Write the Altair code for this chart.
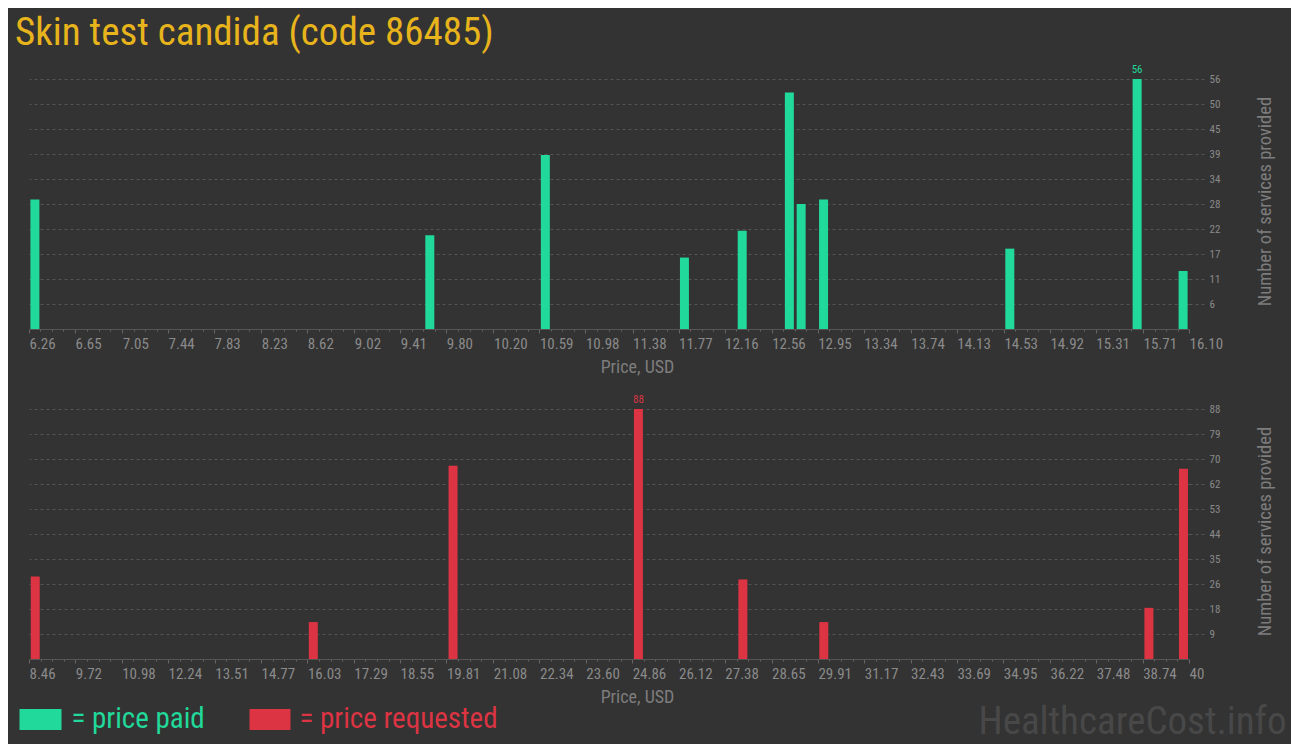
import altair as alt
import pandas as pd

TITLE = "Skin test candida (code 86485)"
FONT = "Roboto Condensed, Liberation Sans Narrow, Arial Narrow, DejaVu Sans Condensed, sans-serif"

# price paid panel
paid_price = [6.31, 9.66, 10.64, 11.82, 12.31, 12.71, 12.81, 13.00, 14.58, 15.66, 16.05]
paid_count = [29, 21, 39, 16, 22, 53, 28, 29, 18, 56, 13]
paid_xticks = ["6.26", "6.65", "7.05", "7.44", "7.83", "8.23", "8.62", "9.02", "9.41",
               "9.80", "10.20", "10.59", "10.98", "11.38", "11.77", "12.16", "12.56",
               "12.95", "13.34", "13.74", "14.13", "14.53", "14.92", "15.31", "15.71", "16.10"]
paid_yticks = [5.6, 11.2, 16.8, 22.4, 28, 33.6, 39.2, 44.8, 50.4, 56]

# price requested panel
req_price = [8.63, 16.19, 19.99, 25.03, 27.87, 30.07, 38.91, 39.85]
req_count = [29, 13, 68, 88, 28, 13, 18, 67]
req_xticks = ["8.46", "9.72", "10.98", "12.24", "13.51", "14.77", "16.03", "17.29", "18.55",
              "19.81", "21.08", "22.34", "23.60", "24.86", "26.12", "27.38", "28.65",
              "29.91", "31.17", "32.43", "33.69", "34.95", "36.22", "37.48", "38.74", "40"]
req_yticks = [8.8, 17.6, 26.4, 35.2, 44, 52.8, 61.6, 70.4, 79.2, 88]

legend_labels = ["= price paid", "= price requested"]
WATERMARK = "HealthcareCost.info"

GREEN = "#20d99a"
RED = "#dc3443"
GOLD = "#e8b41c"
BG = "#333333"
GRID = "#555555"
LABEL = "#8a8a8a"
TITLEC = "#7d7d7d"

W, H = 1160, 250


def panel(prices, counts, xticks, yticks, color):
    df = pd.DataFrame({"price": prices, "count": counts})
    major = [float(t) for t in xticks]
    allticks = []
    for a, b in zip(major[:-1], major[1:]):
        allticks += [a + (b - a) * j / 4 for j in range(4)]
    allticks.append(major[-1])
    major_list = "[" + ",".join(repr(v) for v in major) + "]"
    is_major = "indexof(%s, datum.value) >= 0" % major_list
    label_expr = "%s ? (datum.value == 40 ? '40' : format(datum.value, '.2f')) : ''" % is_major

    xax = alt.Axis(
        values=allticks, tickCount=400, labelExpr=label_expr, grid=False,
        domainColor="#555555", domainWidth=1,
        tickColor="#666666",
        tickSize={"condition": {"test": is_major, "value": 4}, "value": 2},
        labelAlign="left", labelPadding=3, labelBaseline="top",
        labelFont=FONT, labelFontSize=15, labelColor=LABEL, labelOverlap=False,
        labelFlush=False,
        title="Price, USD", titleFont=FONT, titleFontSize=18, titleColor=TITLEC,
        titleFontWeight="normal", titleX=608, titleY=38, titleBaseline="middle",
        titleAlign="center",
    )
    yax = alt.Axis(
        orient="right", values=yticks, tickCount=100, format=".0f", grid=True,
        gridDash=[3, 3], gridColor=GRID, domain=False, tickSize=16, tickDash=[3, 3],
        tickColor=GRID,
        labelPadding=4, labelFont=FONT, labelFontSize=11, labelColor=LABEL,
        labelAlign="left", labelBaseline="middle", labelOverlap=False,
        title="Number of services provided", titleFont=FONT, titleFontSize=18.5,
        titleColor=TITLEC, titleFontWeight="normal", titleAngle=270, titleX=75,
        titleY=122, titleBaseline="middle", titleAlign="center",
    )
    xs = alt.Scale(domain=[major[0], major[-1]], nice=False, zero=False, padding=0)
    ys = alt.Scale(domain=[0, yticks[-1]], nice=False)

    bars = alt.Chart(df).mark_bar(width=9, color=color).encode(
        x=alt.X("price:Q", scale=xs, axis=xax),
        y=alt.Y("count:Q", scale=ys, axis=yax),
    )
    top = alt.Chart(df).transform_joinaggregate(m="max(count)").transform_filter(
        "datum.count == datum.m"
    ).mark_text(dy=-4, baseline="bottom", font=FONT, fontSize=11, color=color).encode(
        x=alt.X("price:Q", scale=xs),
        y=alt.Y("count:Q", scale=ys),
        text="count:Q",
    )
    return bars, top


b1, t1 = panel(paid_price, paid_count, paid_xticks, paid_yticks, GREEN)
b2, t2 = panel(req_price, req_count, req_xticks, req_yticks, RED)

title = alt.Chart(pd.DataFrame({"t": [TITLE]})).mark_text(
    align="left", baseline="alphabetic", font=FONT, fontSize=39, color=GOLD
).encode(text="t:N", x=alt.value(-14), y=alt.value(-34))

sq1 = alt.Chart(pd.DataFrame({"t": [legend_labels[0]]})).mark_rect(color=GREEN).encode(
    x=alt.value(-9.5), x2=alt.value(32.5), y=alt.value(300), y2=alt.value(321))
sq2 = alt.Chart(pd.DataFrame({"t": [legend_labels[1]]})).mark_rect(color=RED).encode(
    x=alt.value(220.5), x2=alt.value(261.5), y=alt.value(300), y2=alt.value(321))
lt1 = alt.Chart(pd.DataFrame({"t": [legend_labels[0]]})).mark_text(
    align="left", baseline="middle", font=FONT, fontSize=29, color=GREEN
).encode(text="t:N", x=alt.value(42.5), y=alt.value(310))
lt2 = alt.Chart(pd.DataFrame({"t": [legend_labels[1]]})).mark_text(
    align="left", baseline="middle", font=FONT, fontSize=29, color=RED
).encode(text="t:N", x=alt.value(270.5), y=alt.value(310))
wm = alt.Chart(pd.DataFrame({"t": [WATERMARK]})).mark_text(
    align="right", baseline="alphabetic", font=FONT, fontSize=39, color="#484848"
).encode(text="t:N", x=alt.value(1257.5), y=alt.value(325))

top_chart = alt.layer(b1, t1, title).properties(width=W, height=H)
bottom_chart = alt.layer(b2, t2, sq1, sq2, lt1, lt2, wm).properties(width=W, height=H)

chart = alt.vconcat(top_chart, bottom_chart, spacing=18).properties(
    padding={"left": 7, "top": 6, "right": 4, "bottom": 2}
).configure(background=BG).configure_view(stroke=None)

chart.save("out.html", embed_options={"renderer": "svg", "actions": False})
